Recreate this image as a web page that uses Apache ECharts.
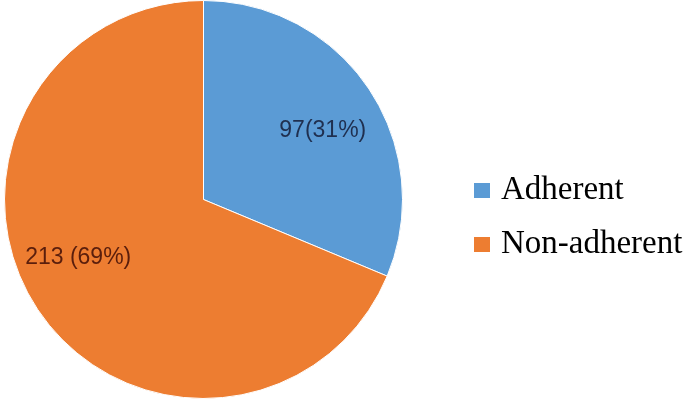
<!DOCTYPE html>
<html>
<head>
<meta charset="utf-8">
<script src="https://cdn.jsdelivr.net/npm/echarts@6/dist/echarts.min.js"></script>
<style>
html, body { margin: 0; padding: 0; background: #fff; }
#chart { width: 685px; height: 402px; }
</style>
</head>
<body>
<div id="chart"></div>
<script>
// 数据
const categories = ['Adherent', 'Non-adherent']
const counts = [97, 213]
const percents = [31, 69]
const labelTexts = ['97(31%)', '213 (69%)']

const colors = ['#5b9bd5', '#ed7d31']
const labelColors = ['#1f2f4f', '#5a1e0c']
const labelOffsets = [[34, -12], [-40, 1]]

const chart = echarts.init(document.getElementById('chart'), null, { renderer: 'canvas' })

const seriesData = categories.map((name, i) => ({
    name: name,
    value: counts[i],
    itemStyle: { color: colors[i] },
    label: {
        formatter: labelTexts[i],
        color: labelColors[i],
        offset: labelOffsets[i]
    }
}))

const option = {
    animation: false,
    backgroundColor: '#fff',
    legend: {
        orient: 'vertical',
        left: 467,
        top: 169,
        icon: 'rect',
        itemWidth: 18,
        itemHeight: 17,
        itemGap: 21,
        data: categories,
        textStyle: {
            fontFamily: 'Liberation Serif',
            fontSize: 33,
            lineHeight: 32,
            color: '#000',
            padding: [0, 0, 0, 5]
        }
    },
    series: [{
        type: 'pie',
        center: [203.5, 199.5],
        radius: 199,
        startAngle: 90,
        clockwise: true,
        label: {
            show: true,
            position: 'inside',
            fontFamily: 'Liberation Sans',
            fontSize: 23
        },
        labelLine: { show: false },
        itemStyle: { borderColor: '#fff', borderWidth: 1 },
        emphasis: { disabled: true },
        data: seriesData
    }]
}

chart.setOption(option)
</script>
</body>
</html>
